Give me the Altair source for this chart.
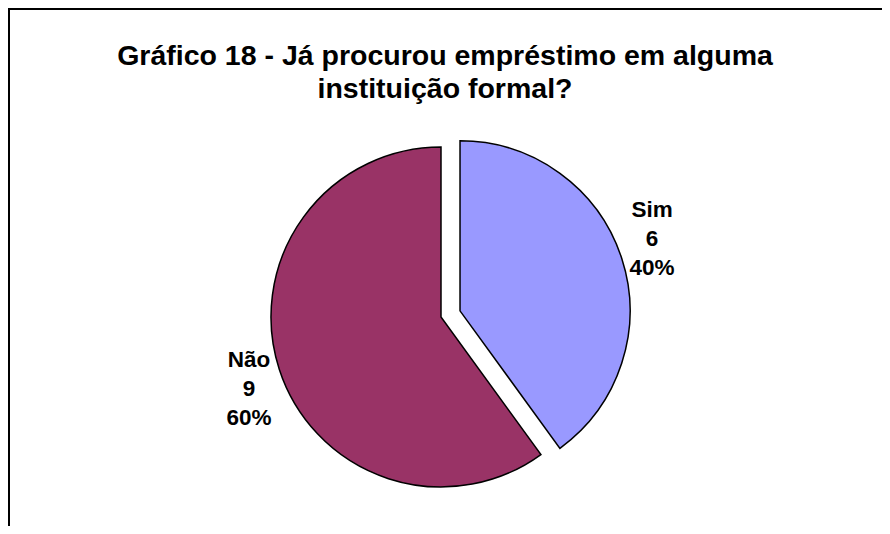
import altair as alt
import pandas as pd

# ---- data ----
categories = ["Sim", "Não"]
values = [6, 9]
percents = [40, 60]
colors = ["#9999FF", "#993366"]
title_lines = ["Gráfico 18 - Já procurou empréstimo em alguma", "instituição formal?"]

# ---- layout constants ----
W, H = 874, 518
CX, CY = 433, 309      # pie center in plot coordinates
R = 170                # pie radius
EXPLODE = {"Sim": 20, "Não": 0}
LABEL_R = 205
LABEL_SHIFT = -2.5     # degrees
LABEL_LH = 29
FONT = "Liberation Sans"

df = pd.DataFrame({
    "cat": categories,
    "value": values,
    "pct": percents,
    "order": list(range(len(categories))),
    "explode": [EXPLODE[c] for c in categories],
})
total = float(sum(values))

base = alt.Chart(df).transform_window(
    cum="sum(value)", sort=[alt.SortField("order")], frame=[None, 0]
).transform_calculate(
    start="datum.cum - datum.value",
    end="datum.cum",
).transform_calculate(
    mid=f"(datum.start + datum.end) / 2 / {total} * 2 * PI",
).transform_calculate(
    cx=f"{CX} + datum.explode * sin(datum.mid)",
    cy=f"{CY} - datum.explode * cos(datum.mid)",
).transform_calculate(
    lx=f"datum.cx + {LABEL_R} * sin(datum.mid + {LABEL_SHIFT} * PI / 180)",
    ly=f"datum.cy - {LABEL_R} * cos(datum.mid + {LABEL_SHIFT} * PI / 180) - {LABEL_LH}",
    label="datum.cat + '\\n' + datum.value + '\\n' + datum.pct + '%'",
)

arcs = base.mark_arc(outerRadius=R, stroke="black", strokeWidth=1.5).encode(
    theta=alt.Theta("start:Q", scale=alt.Scale(domain=[0, total], range=[0, 6.283185307179586]), stack=None),
    theta2="end:Q",
    x=alt.X("cx:Q", scale=None),
    y=alt.Y("cy:Q", scale=None),
    color=alt.Color("cat:N", scale=alt.Scale(domain=categories, range=colors), legend=None),
)

labels = base.mark_text(
    font=FONT, fontSize=22.5, fontWeight="bold", lineBreak="\n", lineHeight=LABEL_LH,
    align="center", baseline="middle", color="black",
).encode(
    x=alt.X("lx:Q", scale=None),
    y=alt.Y("ly:Q", scale=None),
    text="label:N",
)

title_df = pd.DataFrame({"t": ["\n".join(title_lines)]})
title = alt.Chart(title_df).mark_text(
    font=FONT, fontSize=28.5, fontWeight="bold", lineBreak="\n", lineHeight=33,
    align="center", baseline="alphabetic", color="black",
).encode(
    x=alt.value(437),
    y=alt.value(57),
    text="t:N",
)

frame_left = alt.Chart(title_df).mark_rule(color="black", strokeWidth=2).encode(
    x=alt.value(1), y=alt.value(0), y2=alt.value(H)
)
frame_top = alt.Chart(title_df).mark_rule(color="black", strokeWidth=2).encode(
    x=alt.value(0), x2=alt.value(W), y=alt.value(1)
)

chart = alt.layer(arcs, labels, title, frame_left, frame_top).properties(
    width=W, height=H,
    autosize=alt.AutoSizeParams(type="none"),
    padding=0,
).configure_view(stroke=None)

chart.save("out.html", embed_options={"renderer": "svg", "actions": False})
